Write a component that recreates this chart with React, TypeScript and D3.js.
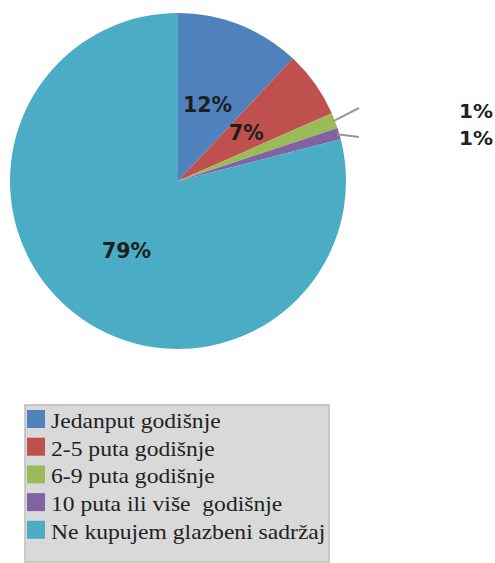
import React from "react";
import * as d3 from "d3";

const categories = [
  "Jedanput godišnje",
  "2-5 puta godišnje",
  "6-9 puta godišnje",
  "10 puta ili više  godišnje",
  "Ne kupujem glazbeni sadržaj",
];
const values = [12, 6.4, 1.5, 1.1, 79];
const labels = ["12%", "7%", "1%", "1%", "79%"];
const colors = ["#4f81bd", "#c0504d", "#9bbb59", "#8064a2", "#4bacc6"];

export default function App() {
  const W = 495, H = 563;
  const cx = 178, cy = 181, r = 168;
  const pie = d3.pie<number>().sort(null).value((d) => d)(values);
  const arc = d3.arc<d3.PieArcDatum<number>>().innerRadius(0).outerRadius(r);
  const labelPos: ([number, number] | null)[] = [
    [183, 112],
    [229, 140],
    null,
    null,
    [102, 258],
  ];
  const outside: { idx: number; end: [number, number]; text: [number, number] }[] = [
    { idx: 2, end: [359, 108], text: [459, 118] },
    { idx: 3, end: [359, 137], text: [459, 145] },
  ];
  const rowH = 27.7;
  return (
    <svg width={W} height={H} style={{ position: "absolute", left: 0, top: 0 }}>
      <rect width={W} height={H} fill="#fff" />
      <g transform={`translate(${cx},${cy})`}>
        {pie.map((p, i) => (
          <path key={i} d={arc(p) || ""} fill={colors[i]} />
        ))}
      </g>
      {outside.map((o, k) => {
        const p = pie[o.idx];
        const a = (p.startAngle + p.endAngle) / 2;
        const sx = cx + Math.sin(a) * (r - 2);
        const sy = cy - Math.cos(a) * (r - 2);
        return (
          <g key={k}>
            <line x1={sx} y1={sy} x2={o.end[0]} y2={o.end[1]} stroke="#999" strokeWidth={2} />
            <text x={o.text[0]} y={o.text[1]} fontFamily="DejaVu Sans" fontWeight="bold" fontSize={20} fill="#222">
              {labels[o.idx]}
            </text>
          </g>
        );
      })}
      {labelPos.map((lp, i) =>
        lp ? (
          <text key={i} x={lp[0]} y={lp[1]} fontFamily="DejaVu Sans" fontWeight="bold" fontSize={20.5} fill="#1e1e1e">
            {labels[i]}
          </text>
        ) : null
      )}
      <rect x={25} y={405} width={304} height={157} fill="#d9d9d9" stroke="#bcbcbc" strokeWidth={1.5} />
      {categories.map((c, i) => (
        <g key={i}>
          <rect x={27} y={410 + i * rowH} width={18} height={18} fill={colors[i]} />
          <text
            transform={`translate(51,${428 + i * rowH}) scale(1.18,1)`}
            fontFamily="serif"
            fontSize={20}
            fill="#222"
            xmlSpace="preserve"
          >
            {c}
          </text>
        </g>
      ))}
    </svg>
  );
}
